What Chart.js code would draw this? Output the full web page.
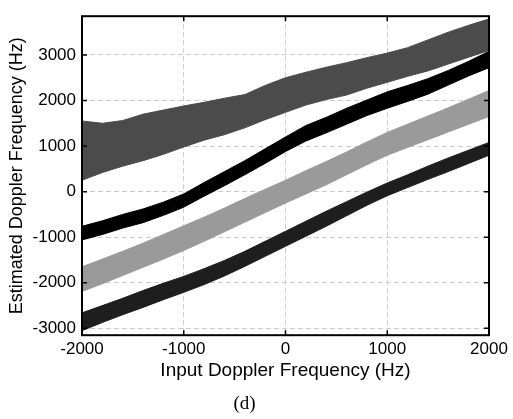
<!DOCTYPE html>
<html>
<head>
<meta charset="utf-8">
<script src="https://cdn.jsdelivr.net/npm/chart.js@4/dist/chart.umd.min.js"></script>
<style>
  html, body { margin: 0; padding: 0; background: #fff; }
  #wrap { width: 513px; height: 419px; }
</style>
</head>
<body>
<div id="wrap"><canvas id="chart" width="513" height="419"></canvas></div>
<script>
// Input Doppler frequency (Hz)
const inputFreq = [-2000, -1800, -1600, -1400, -1200, -1000, -800, -600, -400, -200, 0,
                   200, 400, 600, 800, 1000, 1200, 1400, 1600, 1800, 2000];

// Band edges, estimated frequency (Hz)
const darkGreyTop = [1550, 1500, 1560, 1700, 1790, 1880, 1960, 2050, 2130, 2330, 2500,
                     2620, 2730, 2830, 2940, 3040, 3160, 3330, 3500, 3650, 3790];
const darkGreyBottom = [250, 420, 560, 680, 820, 980, 1130, 1250, 1400, 1580, 1740,
                        1900, 2020, 2120, 2270, 2400, 2530, 2650, 2800, 2950, 3100];

const blackTop = [-760, -640, -500, -380, -230, -50, 200, 440, 680, 940, 1200,
                  1450, 1630, 1830, 2010, 2190, 2330, 2480, 2660, 2860, 3080];
const blackBottom = [-1060, -940, -800, -680, -520, -340, -100, 130, 370, 620, 880,
                     1110, 1290, 1480, 1670, 1830, 1980, 2140, 2340, 2540, 2720];

const lightGreyTop = [-1650, -1480, -1310, -1130, -940, -750, -560, -360, -150, 50, 250,
                      460, 660, 870, 1090, 1300, 1480, 1660, 1840, 2030, 2220];
const lightGreyBottom = [-2190, -2020, -1840, -1660, -1480, -1290, -1090, -880, -670, -460, -250,
                         -50, 150, 370, 590, 800, 970, 1140, 1310, 1480, 1650];

const darkTop = [-2660, -2500, -2340, -2170, -2010, -1860, -1690, -1510, -1310, -1090, -870,
                 -650, -430, -220, -10, 190, 370, 560, 740, 910, 1080];
const darkBottom = [-3050, -2870, -2700, -2540, -2370, -2210, -2040, -1850, -1640, -1420, -1200,
                    -980, -760, -530, -300, -90, 90, 270, 440, 620, 800];

const xTicks = [-2000, -1000, 0, 1000, 2000];
const yTicks = [-3000, -2000, -1000, 0, 1000, 2000, 3000];

const FONT = '"Liberation Sans", Arial, Helvetica, sans-serif';

function pts(values) {
  return inputFreq.map((x, i) => ({ x: x, y: values[i] }));
}

// banda rellena entre borde superior e inferior
function band(name, top, bottom, color) {
  return [
    { label: name + ' top', data: pts(top), borderColor: color, backgroundColor: color,
      borderWidth: 1, pointRadius: 0, tension: 0, fill: false },
    { label: name + ' bottom', data: pts(bottom), borderColor: color, backgroundColor: color,
      borderWidth: 1, pointRadius: 0, tension: 0, fill: '-1' }
  ];
}

// caja negra y marcas hacia dentro (estilo MATLAB)
const framePlugin = {
  id: 'frame',
  afterDatasetsDraw(chart) {
    const { ctx, chartArea: a, scales } = chart;
    const len = 5;
    ctx.save();
    ctx.strokeStyle = '#000';
    ctx.lineWidth = 1.5;
    ctx.beginPath();
    xTicks.forEach(v => {
      const px = scales.x.getPixelForValue(v);
      ctx.moveTo(px, a.bottom); ctx.lineTo(px, a.bottom - len);
      ctx.moveTo(px, a.top); ctx.lineTo(px, a.top + len);
    });
    yTicks.forEach(v => {
      const py = scales.y.getPixelForValue(v);
      ctx.moveTo(a.left, py); ctx.lineTo(a.left + len, py);
      ctx.moveTo(a.right, py); ctx.lineTo(a.right - len, py);
    });
    ctx.stroke();
    ctx.lineWidth = 2;
    ctx.strokeRect(a.left, a.top, a.right - a.left, a.bottom - a.top);
    ctx.restore();
  }
};

const ctx = document.getElementById('chart').getContext('2d');
new Chart(ctx, {
  type: 'line',
  data: {
    datasets: [
      ...band('black', blackTop, blackBottom, '#000000'),
      ...band('light', lightGreyTop, lightGreyBottom, '#9a9a9a'),
      ...band('dark', darkTop, darkBottom, '#1e1e1e'),
      ...band('darkgrey', darkGreyTop, darkGreyBottom, '#4b4b4b')
    ]
  },
  options: {
    responsive: false,
    animation: false,
    layout: { padding: { left: 0, right: 24, top: 7, bottom: 0 } },
    plugins: {
      legend: { display: false },
      tooltip: { enabled: false },
      title: {
        display: true,
        position: 'bottom',
        text: '(d)',
        color: '#000',
        font: { family: '"Liberation Serif", "Times New Roman", serif', size: 19, weight: 'normal' },
        padding: { top: 10, bottom: 4 }
      }
    },
    scales: {
      x: {
        type: 'linear',
        min: -2000,
        max: 2000,
        afterBuildTicks: s => { s.ticks = xTicks.map(v => ({ value: v })); },
        afterFit: s => { s.height = 47; },
        ticks: {
          color: '#000', font: { family: FONT, size: 17 }, padding: 4, maxRotation: 0,
          callback: v => String(v)
        },
        grid: { color: '#cccccc', lineWidth: 1, drawTicks: false },
        border: { display: false, dash: [5, 3] },
        title: {
          display: true,
          text: 'Input Doppler Frequency (Hz)',
          color: '#000',
          font: { family: FONT, size: 19 },
          padding: { top: 0, bottom: 0 }
        }
      },
      y: {
        type: 'linear',
        min: -3150,
        max: 3850,
        afterBuildTicks: s => { s.ticks = yTicks.map(v => ({ value: v })); },
        afterFit: s => { s.width = 82; },
        ticks: {
          color: '#000', font: { family: FONT, size: 17 }, padding: 6,
          callback: v => String(v)
        },
        grid: { color: '#cccccc', lineWidth: 1, drawTicks: false },
        border: { display: false, dash: [5, 3] },
        title: {
          display: true,
          text: 'Estimated Doppler Frequency (Hz)',
          color: '#000',
          font: { family: FONT, size: 18 },
          padding: { top: 6, bottom: 0 }
        }
      }
    }
  },
  plugins: [framePlugin]
});
</script>
</body>
</html>
